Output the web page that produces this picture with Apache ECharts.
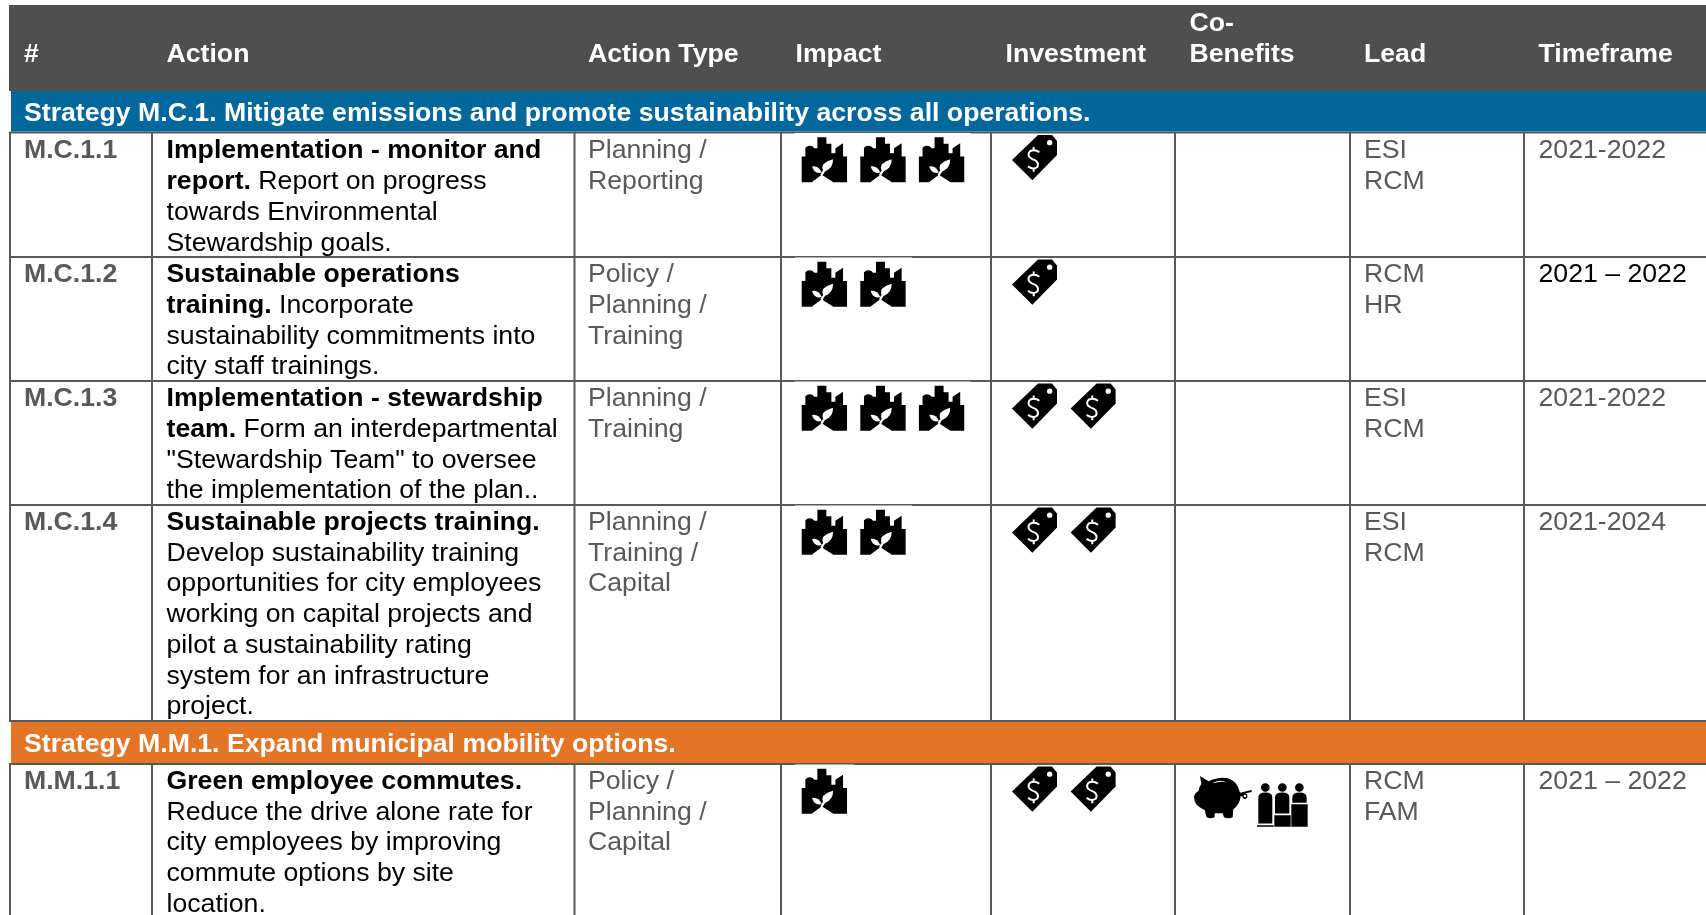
<!DOCTYPE html>
<html>
<head>
    <meta charset="utf-8">
    <title>Action table</title>
    <script src="https://cdnjs.cloudflare.com/ajax/libs/echarts/6.0.0/echarts.min.js"></script>
    <style>
        html, body { margin: 0; padding: 0; background: #fff; overflow: hidden; }
        #chart { width: 1706px; height: 915px; }
    </style>
</head>
<body>
    <div id="chart"></div>

    <script>
        // table content
        const columnNames = ['#', 'Action', 'Action Type', 'Impact', 'Investment', 'Co-\nBenefits', 'Lead', 'Timeframe'];
        const strategyNames = [
            'Strategy M.C.1. Mitigate emissions and promote sustainability across all operations.',
            'Strategy M.M.1. Expand municipal mobility options.'
        ];
        const rowIds = ['M.C.1.1', 'M.C.1.2', 'M.C.1.3', 'M.C.1.4', 'M.M.1.1'];
        const actionBold = [
            ['Implementation - monitor and', 'report.'],
            ['Sustainable operations', 'training.'],
            ['Implementation - stewardship', 'team.'],
            ['Sustainable projects training.'],
            ['Green employee commutes.']
        ];
        // a line starting with a space carries on from the last bold line
        const actionPlain = [
            [' Report on progress', 'towards Environmental', 'Stewardship goals.'],
            [' Incorporate', 'sustainability commitments into', 'city staff trainings.'],
            [' Form an interdepartmental', '"Stewardship Team" to oversee', 'the implementation of the plan..'],
            ['Develop sustainability training', 'opportunities for city employees', 'working on capital projects and', 'pilot a sustainability rating', 'system for an infrastructure', 'project.'],
            ['Reduce the drive alone rate for', 'city employees by improving', 'commute options by site', 'location.']
        ];
        const actionTypes = ['Planning /\nReporting', 'Policy /\nPlanning /\nTraining', 'Planning /\nTraining', 'Planning /\nTraining /\nCapital', 'Policy /\nPlanning /\nCapital'];
        const impactCounts = [3, 2, 3, 2, 1];
        const investmentCounts = [1, 1, 2, 2, 2];
        const coBenefitIcons = [[], [], [], [], ['pig', 'people']];
        const leads = ['ESI\nRCM', 'RCM\nHR', 'ESI\nRCM', 'ESI\nRCM', 'RCM\nFAM'];
        const timeframes = ['2021-2022', '2021 – 2022', '2021-2022', '2021-2024', '2021 – 2022'];

        // layout, in the pixel scale of the two hidden axes
        const W = 1706, H = 915;
        const columnEdges = [10, 152, 574.5, 781, 991, 1175, 1350, 1524];
        const columnText = [24, 166.5, 588, 795.5, 1005.5, 1189.5, 1364, 1538.5];
        const rowTops = [132.5, 257, 381, 505, 764];
        const rowTextTops = [135.7, 259.5, 383.5, 507.3, 766.3];
        const tableBreak = [721, 764];
        const iconPitch = 58.6;

        const GREY = '#595959';
        const FONT = '"Liberation Sans", Arial, sans-serif';
        const FONT_SIZE = 26.67;
        const LINE_H = 30.7;

        // cells of the text series
        const textCells = [];
        columnNames.forEach((name, i) => {
            const lines = name.split('\n');
            textCells.push({ x: columnText[i], y: 39.2 - (lines.length - 1) * LINE_H, lines: lines.map(s => '{h|' + s + '}') });
        });
        strategyNames.forEach((name, i) => {
            textCells.push({ x: 24, y: [98.2, 729.2][i], lines: ['{h|' + name + '}'] });
        });
        rowIds.forEach((id, r) => {
            const y = rowTextTops[r];
            const bold = actionBold[r].map(s => '{b|' + s + '}');
            actionPlain[r].forEach(s => {
                if (s[0] === ' ') bold[bold.length - 1] += '{n|' + s + '}';
                else bold.push('{n|' + s + '}');
            });
            textCells.push({ x: columnText[0], y: y, lines: ['{id|' + id + '}'] });
            textCells.push({ x: columnText[1], y: y, lines: bold });
            textCells.push({ x: columnText[2], y: y, lines: actionTypes[r].split('\n').map(s => '{g|' + s + '}') });
            textCells.push({ x: columnText[6], y: y, lines: leads[r].split('\n').map(s => '{g|' + s + '}') });
            textCells.push({ x: columnText[7], y: y, lines: ['{' + (r === 1 ? 'n' : 'g') + '|' + timeframes[r] + '}'] });
        });

        const richStyles = {
            h: { fill: '#fff', fontWeight: 'bold', fontSize: FONT_SIZE, fontFamily: FONT, lineHeight: LINE_H },
            b: { fill: '#000', fontWeight: 'bold', fontSize: FONT_SIZE, fontFamily: FONT, lineHeight: LINE_H },
            n: { fill: '#000', fontSize: FONT_SIZE, fontFamily: FONT, lineHeight: LINE_H },
            g: { fill: GREY, fontSize: FONT_SIZE, fontFamily: FONT, lineHeight: LINE_H },
            id: { fill: GREY, fontWeight: 'bold', fontSize: FONT_SIZE, fontFamily: FONT, lineHeight: LINE_H }
        };

        // icon outlines, drawn at 3x
        const ICONS = {
            city: [
                { fill: '#000', d: 'M0 135V58H11V32Q20 22 33 28L38 33H47V0H74V20H89V48H101V33L124 18V58H136V135H95L60 113L30 135Z' },
                { fill: '#fff', d: 'M64 82Q76 70 94 66Q95 92 70 103Q66 108 62 116L56 113Q60 104 64 100Q60 92 64 82Z' },
                { fill: '#fff', d: 'M31 88Q50 84 60 106Q38 112 31 88Z' }
            ],
            tag: [
                { fill: '#000', d: 'M0 75L78 0H120L135 18V60L61 136Z' },
                { fill: '#fff', d: 'M105 23a8 8 0 1 0 16 0a8 8 0 1 0 -16 0Z' },
                { stroke: '#fff', width: 6, d: 'M82 52Q70 42 55 48Q46 56 52 66Q60 73 70 76Q82 84 76 96Q64 106 48 94M65 36V46M65 100V110' }
            ],
            pig: [
                { fill: '#000', d: 'M0 62Q2 50 14 44Q16 30 22 24L18 0L44 16Q70 2 100 6Q130 14 138 50L173 42V48L155 52Q166 60 156 68Q146 72 146 62L140 60Q138 85 118 100L116 124Q105 130 90 124L86 112H62L62 124Q50 130 38 124L32 102Q8 92 2 76Z' },
                { fill: '#fff', d: 'M58 20Q78 8 100 20Q80 14 58 22Z' },
                { fill: '#fff', d: 'M149 60a4 4 0 1 0 8 0a4 4 0 1 0 -8 0Z' }
            ],
            people: [
                { fill: '#000', d: 'M12 30a13 13 0 1 1 26 0a13 13 0 1 1 -26 0ZM63 30a13 13 0 1 1 26 0a13 13 0 1 1 -26 0ZM114 30a13 13 0 1 1 26 0a13 13 0 1 1 -26 0Z' },
                { fill: '#000', d: 'M4 60Q4 45 25 45Q46 45 46 60V138H4ZM54 60Q54 45 76 45Q97 45 97 60V108H54ZM106 60Q106 45 127 45Q149 45 149 60V76H106Z' },
                { fill: '#000', d: 'M52 113H101V148H52ZM103 80H152V148H103ZM0 143H50V148H0Z' }
            ]
        };

        // icon placement and the white boxes behind the impact icons
        const iconCells = [];
        const backdrops = [];
        rowIds.forEach((id, r) => {
            const top = rowTops[r];
            backdrops.push([795, top + 0.5, 795 + impactCounts[r] * iconPitch, top + 6]);
            for (let i = 0; i < impactCounts[r]; i++) {
                iconCells.push({ x: 801.7 + i * iconPitch, y: top + 4.7, icon: 'city' });
            }
            for (let i = 0; i < investmentCounts[r]; i++) {
                iconCells.push({ x: 1012 + i * iconPitch, y: top + 2.5, icon: 'tag' });
            }
            coBenefitIcons[r].forEach(name => {
                iconCells.push(name === 'pig'
                    ? { x: 1194, y: top + 12, icon: 'pig' }
                    : { x: 1257, y: top + 13.5, icon: 'people' });
            });
        });

        // filled bands: x0, y0, x1, y1, colour
        const bands = [
            [9, 5, W, 91, '#4f4f4f'],
            [11, 91, W, 131.5, '#02679b'],
            [11, tableBreak[0] + 1, W, tableBreak[1] - 1, '#e37527']
        ];

        // rules: x0, y0, x1, y1
        const rules = [];
        columnEdges.forEach(x => {
            rules.push([x, rowTops[0], x, tableBreak[0]]);
            rules.push([x, tableBreak[1], x, H]);
        });
        rowTops.concat(tableBreak[0]).forEach(y => rules.push([9, y, W, y]));

        function renderBand(params, api) {
            const a = api.coord([api.value(0), api.value(1)]);
            const b = api.coord([api.value(2), api.value(3)]);
            return {
                type: 'rect',
                shape: { x: a[0], y: a[1], width: b[0] - a[0], height: b[1] - a[1] },
                style: { fill: api.value(4) }
            };
        }

        function renderRule(params, api) {
            const a = api.coord([api.value(0), api.value(1)]);
            const b = api.coord([api.value(2), api.value(3)]);
            return {
                type: 'line',
                shape: { x1: a[0], y1: a[1], x2: b[0], y2: b[1] },
                style: { stroke: GREY, lineWidth: 2 }
            };
        }

        function renderText(params, api) {
            const cell = textCells[api.value(2)];
            const p = api.coord([api.value(0), api.value(1)]);
            return {
                type: 'text',
                x: p[0],
                y: p[1],
                style: {
                    text: cell.lines.join('\n'),
                    rich: richStyles,
                    font: FONT_SIZE + 'px ' + FONT,
                    lineHeight: LINE_H,
                    verticalAlign: 'top',
                    align: 'left'
                }
            };
        }

        function renderIcon(params, api) {
            const cell = iconCells[api.value(2)];
            const p = api.coord([api.value(0), api.value(1)]);
            return {
                type: 'group',
                x: p[0],
                y: p[1],
                scaleX: 1 / 3,
                scaleY: 1 / 3,
                children: ICONS[cell.icon].map(part => ({
                    type: 'path',
                    shape: { pathData: part.d },
                    style: part.stroke
                        ? { fill: 'none', stroke: part.stroke, lineWidth: part.width }
                        : { fill: part.fill }
                }))
            };
        }

        const customBase = {
            type: 'custom',
            coordinateSystem: 'cartesian2d',
            silent: true,
            clip: false,
            animation: false
        };

        const chart = echarts.init(document.getElementById('chart'), null, { renderer: 'canvas' });
        chart.setOption({
            animation: false,
            backgroundColor: '#fff',
            tooltip: { show: false },
            grid: { left: 0, right: 0, top: 0, bottom: 0 },
            xAxis: { type: 'value', min: 0, max: W, show: false },
            yAxis: { type: 'value', min: 0, max: H, inverse: true, show: false },
            series: [
                Object.assign({}, customBase, { name: 'rules', renderItem: renderRule, data: rules, encode: { x: [0, 2], y: [1, 3] } }),
                Object.assign({}, customBase, { name: 'bands', renderItem: renderBand, data: bands, encode: { x: [0, 2], y: [1, 3] } }),
                Object.assign({}, customBase, {
                    name: 'backdrops',
                    renderItem: renderBand,
                    data: backdrops.map(b => b.concat('#fff')),
                    encode: { x: [0, 2], y: [1, 3] }
                }),
                Object.assign({}, customBase, {
                    name: 'icons',
                    renderItem: renderIcon,
                    data: iconCells.map((c, i) => [c.x, c.y, i]),
                    encode: { x: 0, y: 1 }
                }),
                Object.assign({}, customBase, {
                    name: 'text',
                    renderItem: renderText,
                    data: textCells.map((c, i) => [c.x, c.y, i]),
                    encode: { x: 0, y: 1 }
                })
            ]
        });
    </script>
</body>
</html>
